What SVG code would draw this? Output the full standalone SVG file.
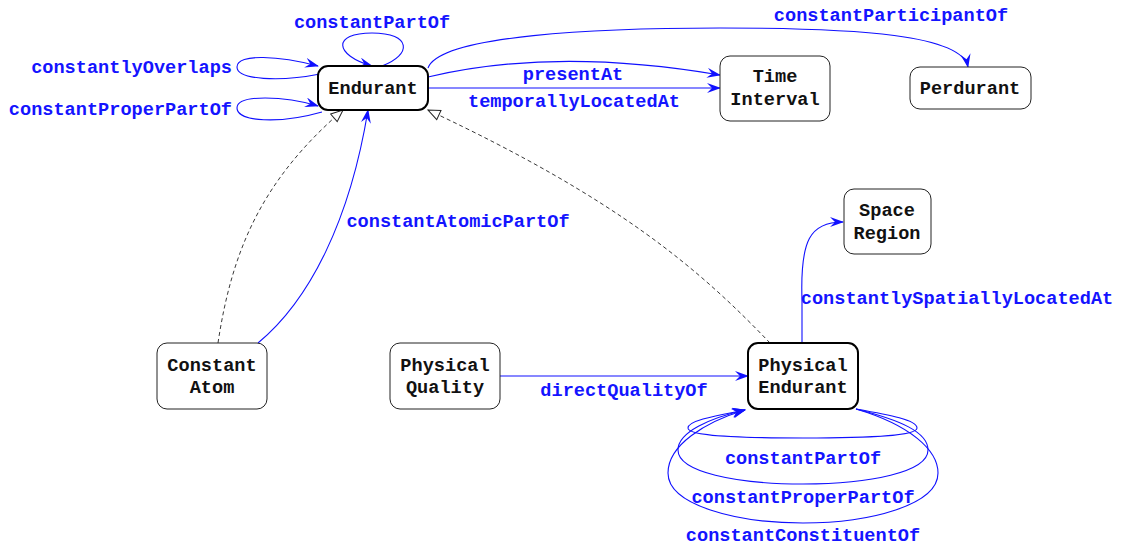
<svg xmlns="http://www.w3.org/2000/svg" width="1121" height="546" viewBox="0 0 1121 546">
<defs>
<style>
.node rect{fill:#fff;stroke:#222;stroke-width:1}
.node.main rect{stroke:#000;stroke-width:2}
.node text{font-family:"Liberation Mono","DejaVu Sans Mono",monospace;font-size:18.6px;font-weight:bold;fill:#111;text-anchor:middle}
.e{fill:none;stroke:#1010ff;stroke-width:1.1}
.d{fill:none;stroke:#222;stroke-width:0.9;stroke-dasharray:4,3}
.lbl{font-family:"Liberation Mono","DejaVu Sans Mono",monospace;font-size:18.6px;font-weight:bold;fill:#1414ff}
</style>
<marker id="a" viewBox="0 0 14 10" refX="13" refY="5" markerWidth="14" markerHeight="10" markerUnits="userSpaceOnUse" orient="auto">
<path d="M0,0 L14,5 L0,10 L5,5 z" fill="#1010ff"/>
</marker>
<marker id="t" viewBox="0 0 14 12" refX="13" refY="6" markerWidth="14" markerHeight="12" markerUnits="userSpaceOnUse" orient="auto">
<path d="M1,1 L13,6 L1,11 z" fill="#fff" stroke="#222" stroke-width="1"/>
</marker>
</defs>
<rect width="1121" height="546" fill="#fff"/>
<g id="connectors">
<path class="e" marker-end="url(#a)" d="M382,66 C412,55 412,33 372,33 C332,33 334,55 372,66"/>
<path class="e" marker-end="url(#a)" d="M320,74 C280,82 237,80 237,67 C237,53 280,56 318,66"/>
<path class="e" marker-end="url(#a)" d="M322,112 C280,124 237,122 237,108 C237,94 285,96 318,106"/>
<path class="e" marker-end="url(#a)" d="M428,77 C520,55 620,58 720,75"/>
<path class="e" marker-end="url(#a)" d="M428,88 L720,88"/>
<path class="e" marker-end="url(#a)" d="M428,68 C440,35 600,28 720,28 C860,28 962,35 968,67"/>
<path class="e" marker-end="url(#a)" d="M258,343 C310,300 350,220 368,110"/>
<path class="d" marker-end="url(#t)" d="M218,343 C232,250 262,180 343,110"/>
<path class="d" marker-end="url(#t)" d="M770,343 C700,270 620,200 428,110"/>
<path class="e" marker-end="url(#a)" d="M500,376 L748,376"/>
<path class="e" marker-end="url(#a)" d="M802,343 L802,300 C800,240 810,222 843,222"/>
<path class="e" marker-end="url(#a)" d="M856,409 C890,415 917,420 917,428 C917,436 870,438 803,438 C736,438 688,436 688,428 C688,420 720,415 745,410"/>
<path class="e" marker-end="url(#a)" d="M856,409 C900,420 928,432 928,450 C928,472 870,484 803,484 C736,484 678,472 678,450 C678,432 710,418 745,410"/>
<path class="e" marker-end="url(#a)" d="M856,409 C910,425 938,450 938,473 C938,505 870,523 803,523 C736,523 668,505 668,473 C668,445 705,422 745,410"/>
</g>
<g id="labels">
<text class="lbl" x="372" y="28" text-anchor="middle">constantPartOf</text>
<text class="lbl" x="232" y="73" text-anchor="end">constantlyOverlaps</text>
<text class="lbl" x="232" y="115" text-anchor="end">constantProperPartOf</text>
<text class="lbl" x="573" y="80" text-anchor="middle">presentAt</text>
<text class="lbl" x="574" y="107" text-anchor="middle">temporallyLocatedAt</text>
<text class="lbl" x="891" y="21" text-anchor="middle">constantParticipantOf</text>
<text class="lbl" x="458" y="227" text-anchor="middle">constantAtomicPartOf</text>
<text class="lbl" x="624" y="396" text-anchor="middle">directQualityOf</text>
<text class="lbl" x="957" y="304" text-anchor="middle">constantlySpatiallyLocatedAt</text>
<text class="lbl" x="803" y="464" text-anchor="middle">constantPartOf</text>
<text class="lbl" x="803" y="503" text-anchor="middle">constantProperPartOf</text>
<text class="lbl" x="803" y="541" text-anchor="middle">constantConstituentOf</text>
</g>
<g id="endurant" class="node main"><rect x="318" y="66" width="110" height="44" rx="10"/><text x="373" y="94">Endurant</text></g>
<g id="time-interval" class="node"><rect x="720" y="56" width="110" height="65" rx="10"/><text x="775" y="82">Time</text><text x="775" y="105">Interval</text></g>
<g id="perdurant" class="node"><rect x="910" y="67" width="121" height="42" rx="10"/><text x="970" y="94">Perdurant</text></g>
<g id="space-region" class="node"><rect x="844" y="189" width="87" height="65" rx="10"/><text x="887" y="216">Space</text><text x="887" y="239">Region</text></g>
<g id="constant-atom" class="node"><rect x="157" y="343" width="110" height="66" rx="10"/><text x="212" y="371">Constant</text><text x="212" y="393">Atom</text></g>
<g id="physical-quality" class="node"><rect x="390" y="343" width="110" height="66" rx="10"/><text x="445" y="371">Physical</text><text x="445" y="393">Quality</text></g>
<g id="physical-endurant" class="node main"><rect x="748" y="343" width="110" height="66" rx="10"/><text x="803" y="371">Physical</text><text x="803" y="393">Endurant</text></g>
</svg>
